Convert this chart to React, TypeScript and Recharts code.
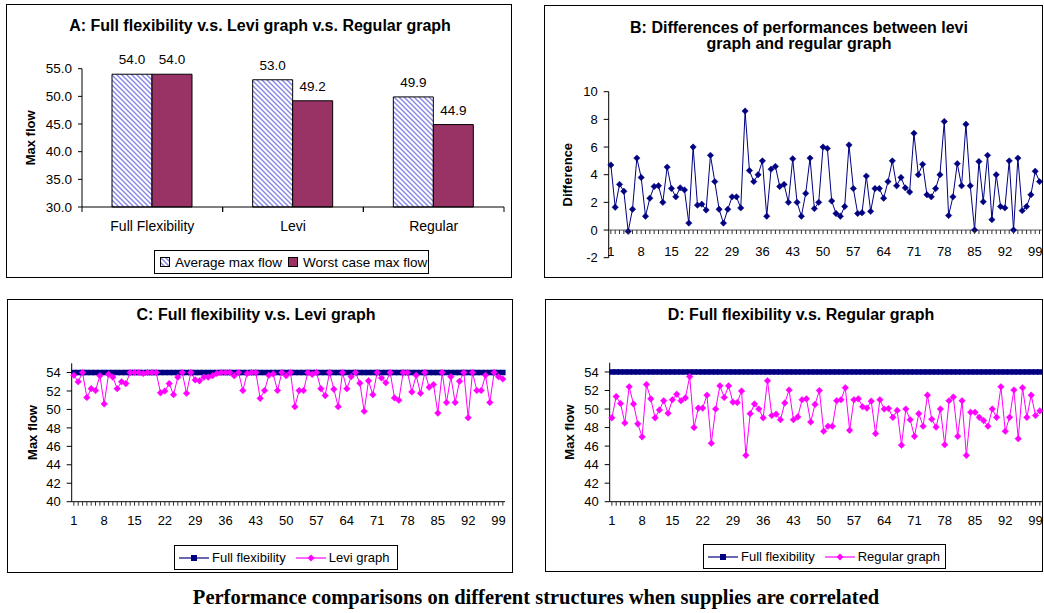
import React from 'react'
import {
  BarChart,
  Bar,
  LineChart,
  Line,
  XAxis,
  YAxis,
  LabelList,
  ReferenceLine,
} from 'recharts'

const FONT = '"Liberation Sans", Arial, Helvetica, sans-serif'
const NAVY = '#000080'
const MAGENTA = '#ff00ff'
const PLUM = '#993366'

// A: average / worst case max flow per structure
const structures = ['Full Flexibility', 'Levi', 'Regular']
const averageMaxFlow = [54.0, 53.0, 49.9]
const worstMaxFlow = [54.0, 49.2, 44.9]
const maxFlowTicks = [30, 35, 40, 45, 50, 55]

// B–D: 100 instances with correlated supplies
const runIndex = Array.from({ length: 100 }, (_, i) => i + 1)
const labelledRuns = [1, 8, 15, 22, 29, 36, 43, 50, 57, 64, 71, 78, 85, 92, 99]
const differenceTicks = [-2, 0, 2, 4, 6, 8, 10]
const flowTicks = [40, 42, 44, 46, 48, 50, 52, 54]

// full flexibility always reaches the total supply of 54
const fullFlexibility = runIndex.map(() => 54)

const leviGraph = [
  53.7, 53.0, 54.0, 51.3, 52.25, 52.05, 53.65, 50.6, 53.8, 53.5,
  52.25, 53.0, 52.8, 54.0, 54.0, 54.0, 53.9, 54.0, 54.0, 54.0,
  51.8, 52.0, 52.8, 51.6, 53.5, 54.0, 51.75, 54.0, 53.2, 53.1,
  53.5, 53.5, 53.65, 53.9, 54.0, 54.0, 54.0, 53.65, 54.0, 52.05,
  53.9, 54.0, 54.0, 51.2, 52.05, 53.7, 53.85, 52.05, 54.0, 53.65,
  54.0, 50.3, 52.05, 52.05, 54.0, 53.8, 54.0, 52.25, 51.5, 54.0,
  52.2, 50.3, 54.0, 52.25, 53.55, 54.0, 52.85, 49.8, 53.1, 51.6,
  54.0, 53.4, 52.9, 54.0, 51.25, 51.0, 54.0, 54.0, 51.9, 53.7,
  51.75, 54.0, 52.4, 52.7, 49.6, 54.0, 50.75, 53.55, 50.75, 53.05,
  54.0, 49.1, 54.0, 52.05, 52.05, 53.7, 50.75, 54.0, 53.55, 53.3,
]

const regularGraph = [
  49.05, 51.35, 50.6, 48.5, 52.4, 50.55, 48.4, 47.0, 52.65, 51.1,
  49.05, 49.9, 50.9, 49.55, 51.0, 51.6, 50.9, 51.2, 53.5, 48.0,
  50.1, 50.1, 51.5, 46.3, 50.0, 52.5, 51.25, 52.5, 50.75, 50.7,
  51.95, 45.0, 49.5, 50.55, 50.0, 49.05, 53.05, 49.3, 49.45, 48.85,
  50.65, 52.05, 48.85, 49.15, 51.0, 51.1, 48.6, 50.5, 52.0, 47.6,
  48.15, 48.15, 50.9, 51.0, 52.3, 47.7, 51.0, 51.1, 50.25, 50.1,
  50.85, 47.35, 51.0, 50.0, 50.05, 49.1, 49.85, 46.1, 50.0, 48.85,
  47.05, 49.5, 48.15, 51.5, 48.9, 48.05, 50.0, 46.15, 50.9, 51.3,
  47.05, 50.9, 45.0, 49.65, 49.65, 49.1, 48.75, 48.15, 50.0, 49.1,
  52.4, 47.6, 49.1, 52.05, 46.8, 52.3, 49.1, 51.5, 49.3, 49.8,
]

const difference = [
  4.7, 1.65, 3.3, 2.8, -0.1, 1.5, 5.2, 3.8, 1.0, 2.3,
  3.15, 3.2, 2.0, 4.55, 3.0, 2.4, 3.05, 2.9, 0.5, 6.0,
  1.8, 1.87, 1.45, 5.4, 3.5, 1.5, 0.5, 1.5, 2.4, 2.4,
  1.6, 8.6, 4.3, 3.5, 4.0, 5.0, 1.0, 4.4, 4.6, 3.15,
  3.3, 2.0, 5.15, 2.0, 1.0, 2.65, 5.2, 1.55, 2.0, 6.0,
  5.9, 2.1, 1.2, 1.0, 1.7, 6.15, 3.0, 1.2, 1.25, 3.9,
  1.35, 3.0, 3.0, 2.3, 3.5, 5.0, 3.2, 3.8, 3.05, 2.75,
  7.0, 4.0, 4.75, 2.55, 2.4, 3.0, 4.0, 7.85, 1.05, 2.4,
  4.8, 3.2, 7.65, 3.2, 0.0, 4.95, 2.05, 5.4, 0.75, 4.0,
  1.7, 1.6, 5.0, 0.0, 5.2, 1.4, 1.7, 2.55, 4.25, 3.5,
]

const barRows = structures.map((name, i) => ({
  name,
  average: averageMaxFlow[i],
  worst: worstMaxFlow[i],
}))

const runRows = runIndex.map((run, i) => ({
  run,
  full: fullFlexibility[i],
  levi: leviGraph[i],
  regular: regularGraph[i],
  diff: difference[i],
}))

const axisTick = { fill: '#000', fontSize: 13, fontFamily: FONT }
const axisLabelStyle = { textAnchor: 'middle', fontWeight: 'bold', fontSize: 13, fontFamily: FONT, fill: '#000' } as any

// panel A geometry
const A_W = 506
const A_H = 274
const A_LEFT = 75
const A_RIGHT = 9
const A_BAND = (A_W - A_LEFT - A_RIGHT) / structures.length

// panel B geometry (zero line sits above the bottom of the plot)
const B_W = 499
const B_H = 273
const B_TOP = 85.7
const B_BOTTOM = 21.3
const B_ZERO = ((B_H - B_TOP - B_BOTTOM) * 2) / 12

function StructureTick({ x, y, payload }: any) {
  return (
    <g>
      <line x1={x - A_BAND / 2} x2={x - A_BAND / 2} y1={y} y2={y + 5} stroke="#000" />
      <line x1={x + A_BAND / 2} x2={x + A_BAND / 2} y1={y} y2={y + 5} stroke="#000" />
      <text x={x} y={y + 24} textAnchor="middle" fontSize={14} fontFamily={FONT} fill="#000">
        {payload.value}
      </text>
    </g>
  )
}

function makeRunTick(lift: number, labelDrop: number) {
  return function RunTick({ x, y, payload }: any) {
    const y0 = y - lift
    return (
      <g>
        <line x1={x} x2={x} y1={y0} y2={y0 + 4} stroke="#333" />
        {labelledRuns.includes(payload.value) && (
          <text x={x} y={y0 + labelDrop} textAnchor="middle" fontSize={13} fontFamily={FONT} fill="#000">
            {payload.value}
          </text>
        )}
      </g>
    )
  }
}

function diamond(color: string, r: number) {
  return ({ cx, cy, index }: any) => (
    <path
      key={index}
      d={`M${cx},${cy - r} L${cx + r},${cy} L${cx},${cy + r} L${cx - r},${cy} Z`}
      fill={color}
      stroke={color}
      strokeWidth={0.5}
    />
  )
}

function square(color: string, s: number) {
  return ({ cx, cy, index }: any) => (
    <rect key={index} x={cx - s / 2} y={cy - s / 2} width={s} height={s} fill={color} />
  )
}

function Panel({ left, top, width, height, children }: any) {
  return (
    <div
      style={{
        position: 'absolute',
        left,
        top,
        width,
        height,
        border: '1px solid #000',
        boxSizing: 'border-box',
      }}
    >
      {children}
    </div>
  )
}

function Title({ cx, top, children }: any) {
  return (
    <div
      style={{
        position: 'absolute',
        left: cx - 260,
        top,
        width: 520,
        textAlign: 'center',
        fontFamily: FONT,
        fontWeight: 'bold',
        fontSize: 16,
        lineHeight: '16px',
        color: '#000',
      }}
    >
      {children}
    </div>
  )
}

function LineSwatch({ color, marker }: { color: string; marker: 'square' | 'diamond' }) {
  return (
    <svg width={30} height={10} style={{ marginRight: 3, flex: 'none' }}>
      <line x1={0} x2={30} y1={5} y2={5} stroke={color} strokeWidth={1.2} />
      {marker === 'square' ? (
        <rect x={12} y={2} width={6} height={6} fill={color} />
      ) : (
        <path d="M15,1.5 L18.5,5 L15,8.5 L11.5,5 Z" fill={color} />
      )}
    </svg>
  )
}

function LineLegend({ left, top, width, second }: any) {
  return (
    <div
      style={{
        position: 'absolute',
        left,
        top,
        width,
        height: 25,
        boxSizing: 'border-box',
        border: '1px solid #000',
        display: 'flex',
        alignItems: 'center',
        paddingLeft: 4,
        fontFamily: FONT,
        fontSize: 13,
        color: '#000',
        background: '#fff',
        whiteSpace: 'nowrap',
      }}
    >
      <LineSwatch color={NAVY} marker="square" />
      <span style={{ marginRight: 10 }}>Full flexibility</span>
      <LineSwatch color={MAGENTA} marker="diamond" />
      <span>{second}</span>
    </div>
  )
}

function BarSwatch({ fill }: { fill: string }) {
  return (
    <svg width={10} height={10} style={{ marginRight: 5, flex: 'none' }}>
      <rect x={0.5} y={0.5} width={9} height={9} fill={fill} stroke="#000" />
    </svg>
  )
}

export default function App() {
  return (
    <div
      style={{
        position: 'absolute',
        left: 0,
        top: 0,
        width: 1044,
        height: 613,
        background: '#fff',
        overflow: 'hidden',
      }}
    >
      <svg width={0} height={0} style={{ position: 'absolute' }}>
        <defs>
          <pattern id="avgHatch" width={5} height={5} patternUnits="userSpaceOnUse">
            <rect width={5} height={5} fill="#fff" />
            <path d="M0,0 L5,5 M-1,4 L1,6 M4,-1 L6,1" stroke="#8585e8" strokeWidth={1.4} />
          </pattern>
        </defs>
      </svg>

      {/* A: bar comparison */}
      <Panel left={6} top={4} width={A_W} height={A_H}>
        <Title cx={253} top={13}>
          A: Full flexibility v.s. Levi graph v.s. Regular graph
        </Title>
        <BarChart
          width={A_W}
          height={A_H}
          data={barRows}
          margin={{ top: 63.7, right: A_RIGHT, bottom: 42, left: 0 }}
          barGap={0}
        >
          <XAxis
            dataKey="name"
            height={30}
            stroke="#000"
            tickLine={false}
            tickSize={0}
            tickMargin={0}
            tick={StructureTick}
          />
          <YAxis
            width={A_LEFT}
            domain={[30, 55]}
            ticks={maxFlowTicks}
            interval={0}
            tickFormatter={(v: number) => v.toFixed(1)}
            stroke="#000"
            tick={{ ...axisTick, fontSize: 13.5 }}
            tickSize={4}
            tickMargin={6}
            label={{ value: 'Max flow', angle: -90, position: 'insideLeft', offset: 23, style: axisLabelStyle }}
          />
          <Bar dataKey="average" barSize={40} fill="url(#avgHatch)" stroke="#000" strokeWidth={1} isAnimationActive={false}>
            <LabelList
              dataKey="average"
              position="top"
              offset={10}
              formatter={(v: any) => Number(v).toFixed(1)}
              style={{ fill: '#000', fontSize: 13.5, fontFamily: FONT }}
            />
          </Bar>
          <Bar dataKey="worst" barSize={40} fill={PLUM} stroke="#000" strokeWidth={1} isAnimationActive={false}>
            <LabelList
              dataKey="worst"
              position="top"
              offset={10}
              formatter={(v: any) => Number(v).toFixed(1)}
              style={{ fill: '#000', fontSize: 13.5, fontFamily: FONT }}
            />
          </Bar>
        </BarChart>
        <div
          style={{
            position: 'absolute',
            left: 147,
            top: 245,
            width: 275,
            height: 24,
            boxSizing: 'border-box',
            border: '1px solid #000',
            display: 'flex',
            alignItems: 'center',
            paddingLeft: 5,
            fontFamily: FONT,
            fontSize: 13.5,
            color: '#000',
            whiteSpace: 'nowrap',
          }}
        >
          <BarSwatch fill="url(#avgHatch)" />
          <span style={{ marginRight: 6 }}>Average max flow</span>
          <BarSwatch fill={PLUM} />
          <span>Worst case max flow</span>
        </div>
      </Panel>

      {/* B: difference between levi and regular */}
      <Panel left={544} top={5} width={B_W} height={B_H}>
        <Title cx={254} top={14}>
          B: Differences of performances between levi
          <br />
          graph and regular graph
        </Title>
        <LineChart
          width={B_W}
          height={B_H}
          data={runRows}
          margin={{ top: B_TOP, right: 2.3, bottom: 1.3, left: 0 }}
        >
          <XAxis
            type="number"
            dataKey="run"
            domain={[0.5, 100.5]}
            ticks={runIndex}
            interval={0}
            height={20}
            axisLine={false}
            tickLine={false}
            tickSize={0}
            tickMargin={0}
            tick={makeRunTick(B_ZERO, 26)}
          />
          <YAxis
            width={63.7}
            domain={[-2, 10]}
            ticks={differenceTicks}
            interval={0}
            stroke="#000"
            tick={axisTick}
            tickSize={5}
            tickMargin={6}
            label={{ value: 'Difference', angle: -90, position: 'insideLeft', offset: 22, style: axisLabelStyle }}
          />
          <ReferenceLine y={0} stroke="#555" />
          <Line
            dataKey="diff"
            stroke={NAVY}
            strokeWidth={1}
            dot={diamond(NAVY, 3.2)}
            isAnimationActive={false}
          />
        </LineChart>
      </Panel>

      {/* C: full flexibility vs levi graph */}
      <Panel left={7} top={299} width={506} height={274}>
        <Title cx={248} top={7}>
          C: Full flexibility v.s. Levi graph
        </Title>
        <LineChart
          width={506}
          height={274}
          data={runRows}
          margin={{ top: 63.3, right: 9, bottom: 42.3, left: 0 }}
        >
          <XAxis
            type="number"
            dataKey="run"
            domain={[0.5, 100.5]}
            ticks={runIndex}
            interval={0}
            height={30}
            stroke="#000"
            tickLine={false}
            tickSize={0}
            tickMargin={0}
            tick={makeRunTick(0, 23)}
          />
          <YAxis
            width={63.7}
            domain={[40, 55]}
            ticks={flowTicks}
            interval={0}
            stroke="#000"
            tick={axisTick}
            tickSize={5}
            tickMargin={6}
            label={{ value: 'Max flow', angle: -90, position: 'insideLeft', offset: 24, style: axisLabelStyle }}
          />
          <Line dataKey="full" stroke={NAVY} strokeWidth={1} dot={square(NAVY, 5.5)} isAnimationActive={false} />
          <Line dataKey="levi" stroke={MAGENTA} strokeWidth={1} dot={diamond(MAGENTA, 3.3)} isAnimationActive={false} />
        </LineChart>
        <LineLegend left={166} top={245} width={224} second="Levi graph" />
      </Panel>

      {/* D: full flexibility vs regular graph */}
      <Panel left={545} top={299} width={498} height={273}>
        <Title cx={255} top={7}>
          D: Full flexibility v.s. Regular graph
        </Title>
        <LineChart
          width={498}
          height={273}
          data={runRows}
          margin={{ top: 62.7, right: 2, bottom: 41.3, left: 0 }}
        >
          <XAxis
            type="number"
            dataKey="run"
            domain={[0.5, 100.5]}
            ticks={runIndex}
            interval={0}
            height={30}
            stroke="#000"
            tickLine={false}
            tickSize={0}
            tickMargin={0}
            tick={makeRunTick(0, 23)}
          />
          <YAxis
            width={63.7}
            domain={[40, 55]}
            ticks={flowTicks}
            interval={0}
            stroke="#000"
            tick={axisTick}
            tickSize={5}
            tickMargin={6}
            label={{ value: 'Max flow', angle: -90, position: 'insideLeft', offset: 23, style: axisLabelStyle }}
          />
          <Line dataKey="full" stroke={NAVY} strokeWidth={1} dot={square(NAVY, 5.5)} isAnimationActive={false} />
          <Line dataKey="regular" stroke={MAGENTA} strokeWidth={1} dot={diamond(MAGENTA, 3.3)} isAnimationActive={false} />
        </LineChart>
        <LineLegend left={157} top={244} width={243} second="Regular graph" />
      </Panel>

      <div
        style={{
          position: 'absolute',
          left: 0,
          top: 585,
          width: 1072,
          textAlign: 'center',
          fontFamily: '"Liberation Serif", "Times New Roman", serif',
          fontWeight: 'bold',
          fontSize: 20.5,
          lineHeight: '24px',
          color: '#000',
        }}
      >
        Performance comparisons on different structures when supplies are correlated
      </div>
    </div>
  )
}
